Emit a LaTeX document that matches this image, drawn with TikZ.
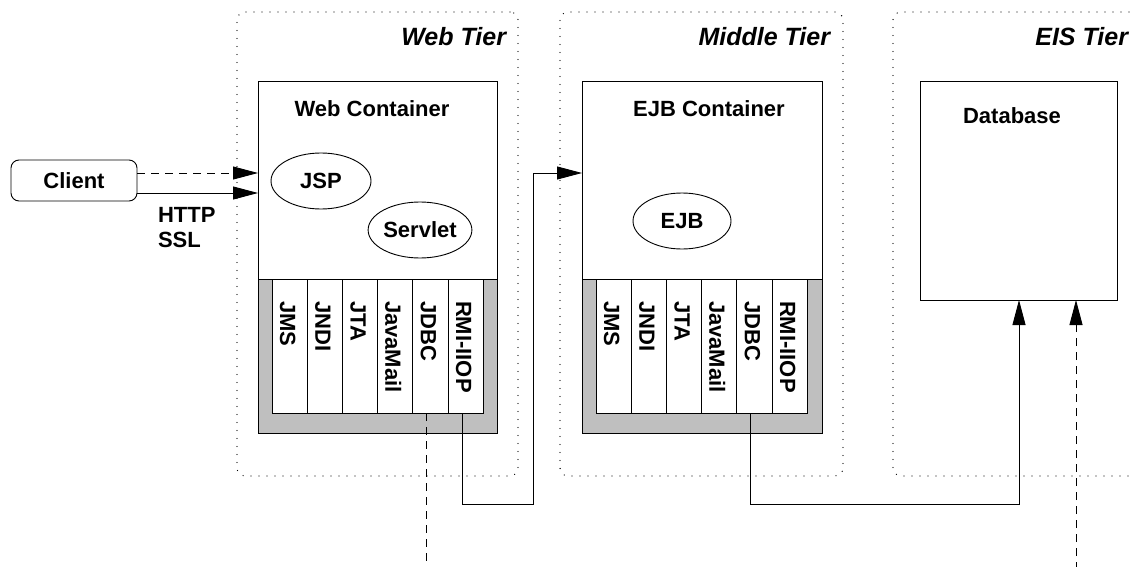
\documentclass[tikz,border=0pt]{standalone}
\usepackage{fontspec}
\setmainfont{Liberation Sans}
\usetikzlibrary{arrows.meta,shapes.geometric}
\definecolor{apigray}{RGB}{191,191,191}
\begin{document}
\begin{tikzpicture}[x=1pt,y=-1pt,line width=0.9pt,
  every node/.style={font=\fontsize{22pt}{25pt}\selectfont\bfseries,inner sep=0pt,outer sep=0pt},
  box/.style={draw,fill=white,anchor=north west},
  tier/.style={draw,line width=1.3pt,dash pattern=on 0pt off 8pt,line cap=round,rounded corners=8pt,anchor=north west},
  tierlabel/.style={anchor=east,font=\fontsize{25pt}{30pt}\selectfont\bfseries\itshape},
  apibase/.style={box,fill=apigray},
  api/.style={box,minimum width=35.2pt,minimum height=134pt},
  apilabel/.style={rotate=-90,anchor=west},
  comp/.style={draw,ellipse,minimum width=99pt,minimum height=56pt},
  link/.style={-{Triangle[length=25pt,width=13pt]}},
  weak/.style={dash pattern=on 8pt off 6pt}
]
\useasboundingbox (0,0) rectangle (1132,567);
\clip (0,0) rectangle (1132,567);

% tiers
\node[tier,minimum width=281pt,minimum height=464pt] (webtier) at (237,12) {};
\node[tier,minimum width=283pt,minimum height=464pt] (midtier) at (560,12) {};
\node[tier,minimum width=300pt,minimum height=464pt] (eistier) at (893,12) {};
\node[tierlabel] (webtierlabel) at (506,37) {Web Tier};
\node[tierlabel] (midtierlabel) at (830,37) {Middle Tier};
\node[tierlabel] (eistierlabel) at (1128,37) {EIS Tier};

% client
\node[draw,rounded corners=8pt,minimum width=126pt,minimum height=41pt] (client) at (74,180.5) {Client};
\node[anchor=west,align=left] (proto) at (158,228) {HTTP\\SSL};

% web container
\node[box,minimum width=239pt,minimum height=352pt] (webc) at (258,81) {};
\node[apibase,minimum width=239pt,minimum height=154pt] (webbase) at (258,279) {};
\node (webctitle) at (372,109) {Web Container};
\node[comp,minimum width=100pt] (jsp) at (321,181) {JSP};
\node[comp] (servlet) at (420,230) {Servlet};

% EJB container
\node[box,minimum width=240pt,minimum height=352pt] (ejbc) at (582,81) {};
\node[apibase,minimum width=240pt,minimum height=154pt] (ejbbase) at (582,279) {};
\node (ejbctitle) at (709,109) {EJB Container};
\node[comp,minimum width=98pt] (ejb) at (682,221) {EJB};

% service APIs
\foreach \api [count=\i from 0] in {JMS,JNDI,JTA,JavaMail,JDBC,RMI-IIOP} {
  \node[api] (w\i) at (272+35.2*\i,279) {};
  \node[apilabel] (w\i label) at ([xshift=-2pt,yshift=-22pt]w\i.north) {\api};
  \node[api] (m\i) at (596+35.2*\i,279) {};
  \node[apilabel] (m\i label) at ([xshift=-2pt,yshift=-22pt]m\i.north) {\api};
}

% database
\node[box,minimum width=197pt,minimum height=219pt] (db) at (920,81) {};
\node (dbtitle) at (1012,116) {Database};

% connectors
\coordinate (cdash) at ([yshift=7.5pt]client.east);
\coordinate (csolid) at ([yshift=-12.5pt]client.east);
\draw[weak,link] (cdash) -- (cdash -| webc.west);
\draw[link] (csolid) -- (csolid -| webc.west);

\coordinate (rmiout) at ([xshift=-3.5pt]w5.south);
\coordinate (rmibend) at (533,504);
\coordinate (ejbin) at (0,173);
\draw[link] (rmiout) |- (rmibend) |- (ejbin -| ejbc.west);

\coordinate (wjdbcout) at ([xshift=-3.5pt]w4.south);
\coordinate (bottomedge) at (0,570);
\draw[weak] (wjdbcout) -- (wjdbcout |- bottomedge);

\coordinate (mjdbcout) at ([xshift=-3.5pt]m4.south);
\coordinate (dbbend) at (1019,504);
\draw[link] (mjdbcout) |- (dbbend) -- (dbbend |- db.south);

\coordinate (eisfeed) at (1076,570);
\draw[weak,link] (eisfeed) -- (eisfeed |- db.south);
\end{tikzpicture}
\end{document}
